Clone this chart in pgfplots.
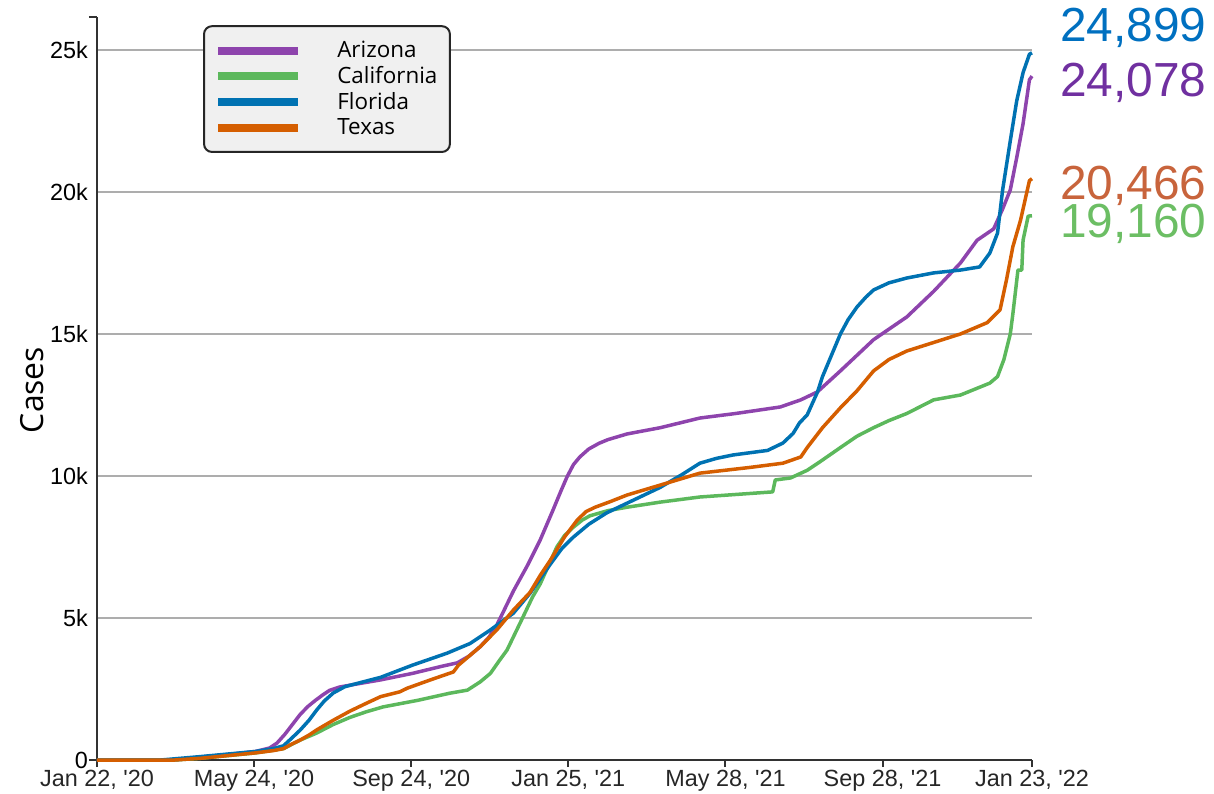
\documentclass[border=0pt]{standalone}
\usepackage{fontspec}
\setmainfont{Liberation Sans}
\newfontfamily\opensans{Open Sans}
\newfontfamily\tfont[Ligatures=TeXOff]{Liberation Sans}
\usepackage{pgfplots}
\pgfplotsset{compat=1.18}
\definecolor{az}{RGB}{142,68,173}
\definecolor{ca}{RGB}{92,184,92}
\definecolor{fl}{RGB}{0,114,178}
\definecolor{tx}{RGB}{213,94,0}
\definecolor{azn}{RGB}{112,48,160}
\definecolor{can}{RGB}{108,190,100}
\definecolor{fln}{RGB}{0,112,192}
\definecolor{txn}{RGB}{200,100,60}
\definecolor{axc}{RGB}{50,50,50}

\pgfplotstableread{
d v
0 0
61 0
81 100
104 200
124 300
135 420
141 600
147 900
153 1250
159 1600
165 1880
171 2100
177 2300
182 2450
190 2570
200 2650
222 2820
247 3050
270 3300
282 3420
291 3650
300 3990
307 4330
313 4750
319 5300
326 5950
337 6850
347 7750
357 8800
363 9450
368 9970
373 10400
378 10670
385 10950
393 11150
400 11280
415 11480
441 11700
472 12040
500 12200
535 12430
551 12680
564 12960
582 13700
608 14800
634 15600
655 16500
676 17500
689 18300
702 18700
709 19400
715 20070
720 21200
725 22400
730 23950
732 24078
}\arizona

\pgfplotstableread{
d v
0 0
61 0
81 60
124 250
146 400
159 700
172 950
185 1250
198 1500
211 1700
224 1870
251 2100
276 2350
290 2460
300 2750
308 3050
315 3500
321 3870
331 4800
341 5740
347 6200
355 7000
360 7500
366 7900
373 8200
380 8450
386 8600
400 8780
415 8900
441 9080
472 9260
529 9440
531 9860
543 9930
556 10200
566 10500
582 11000
595 11400
608 11700
620 11950
634 12200
655 12680
676 12850
699 13270
705 13500
710 14100
715 15000
717 15700
721 17250
724 17250
725 18300
729 19150
732 19160
}\california

\pgfplotstableread{
d v
0 0
50 0
81 120
124 300
138 400
146 500
152 750
159 1050
166 1400
172 1760
178 2080
185 2360
194 2580
204 2700
222 2910
247 3340
274 3760
292 4100
308 4580
326 5170
339 5870
355 6900
364 7450
373 7850
385 8300
399 8700
420 9150
441 9600
458 10050
472 10450
485 10620
498 10740
525 10900
537 11160
545 11500
550 11870
556 12150
560 12550
564 12950
568 13500
575 14250
582 15000
588 15500
595 15950
602 16300
608 16550
620 16800
634 16970
655 17150
676 17250
691 17360
699 17850
705 18550
709 20070
715 21800
720 23200
725 24200
730 24850
732 24899
}\florida

\pgfplotstableread{
d v
0 0
61 0
81 60
124 250
138 330
146 400
152 550
159 700
166 880
172 1060
185 1400
198 1720
211 2000
222 2230
237 2400
243 2530
261 2820
279 3100
283 3340
300 3990
313 4580
326 5280
339 5900
347 6500
355 7040
366 7850
376 8450
383 8750
390 8900
402 9100
415 9330
441 9680
472 10100
511 10300
537 10450
551 10670
556 11000
568 11700
582 12400
595 13000
608 13700
620 14100
634 14400
655 14700
676 15000
697 15400
707 15850
712 16900
717 18070
723 19000
730 20400
732 20466
}\texas

\begin{document}
\begin{tikzpicture}
\useasboundingbox (-97bp,-34bp) rectangle (1117bp,760bp);
\begin{axis}[
  at={(0,0)}, anchor=south west,
  scale only axis, width=935bp, height=743bp,
  xmin=0, xmax=732, ymin=0, ymax=26160,
  clip=false,
  axis lines=left,
  axis line style={-, line width=2.5bp, color=axc},
  tick align=outside,
  major tick length=7bp,
  xtick={0,123,246,369,492,615,732},
  xticklabels={{Jan 22, '20},{May 24, '20},{Sep 24, '20},{Jan 25, '21},{May 28, '21},{Sep 28, '21},{Jan 23, '22}},
  xticklabel style={font=\tfont\fontsize{23.5}{27}\selectfont, text=black!85},
  xtick style={line width=2bp, color=axc},
  ytick={0,5000,10000,15000,20000,25000},
  yticklabels={0,5k,10k,15k,20k,25k},
  yticklabel style={font=\tfont\fontsize{23.5}{27}\selectfont, text=black, inner xsep=0pt, xshift=-2bp},
  ytick style={draw=none},
  extra y ticks={0,26160},
  extra y tick labels={,},
  extra y tick style={major tick length=8bp, grid=none, ytick style={draw=axc, line width=2.5bp}},
  ymajorgrids,
  grid style={line width=2bp, color=black!32},
  ylabel={Cases},
  ylabel style={at={(axis description cs:-0.0695,0.498)}, anchor=center, font=\opensans\fontsize{32}{38}\selectfont},
  legend image code/.code={\draw[#1, line width=8bp] (0bp,0bp) -- (80bp,0bp); \path (115bp,0bp);},
  legend cell align=left,
  legend style={at={(axis description cs:0.1134,0.989)}, anchor=north west,
    fill=black!6, draw=black!85, line width=2bp, rounded corners=8bp,
    inner xsep=10bp, inner ysep=11.5bp,
    font=\opensans\fontsize{22.5}{26}\selectfont,
    nodes={text height=17.5bp, text depth=3.2bp, inner sep=2.5bp}},
  every axis plot/.append style={line width=3.5bp, line join=round, mark=none},
]
\addplot[az] table[x=d,y=v]{\arizona};
\addlegendentry{Arizona}
\addplot[ca] table[x=d,y=v]{\california};
\addlegendentry{California}
\addplot[fl] table[x=d,y=v]{\florida};
\addlegendentry{Florida}
\addplot[tx] table[x=d,y=v]{\texas};
\addlegendentry{Texas}
\node[anchor=base west, inner sep=0pt, text=fln, font=\tfont\fontsize{48}{52}\selectfont] at (axis cs:754,25282) {24,899};
\node[anchor=base west, inner sep=0pt, text=azn, font=\tfont\fontsize{48}{52}\selectfont] at (axis cs:754,23345) {24,078};
\node[anchor=base west, inner sep=0pt, text=txn, font=\tfont\fontsize{48}{52}\selectfont] at (axis cs:754,19718) {20,466};
\node[anchor=base west, inner sep=0pt, text=can, font=\tfont\fontsize{48}{52}\selectfont] at (axis cs:754,18380) {19,160};
\end{axis}
\end{tikzpicture}
\end{document}
